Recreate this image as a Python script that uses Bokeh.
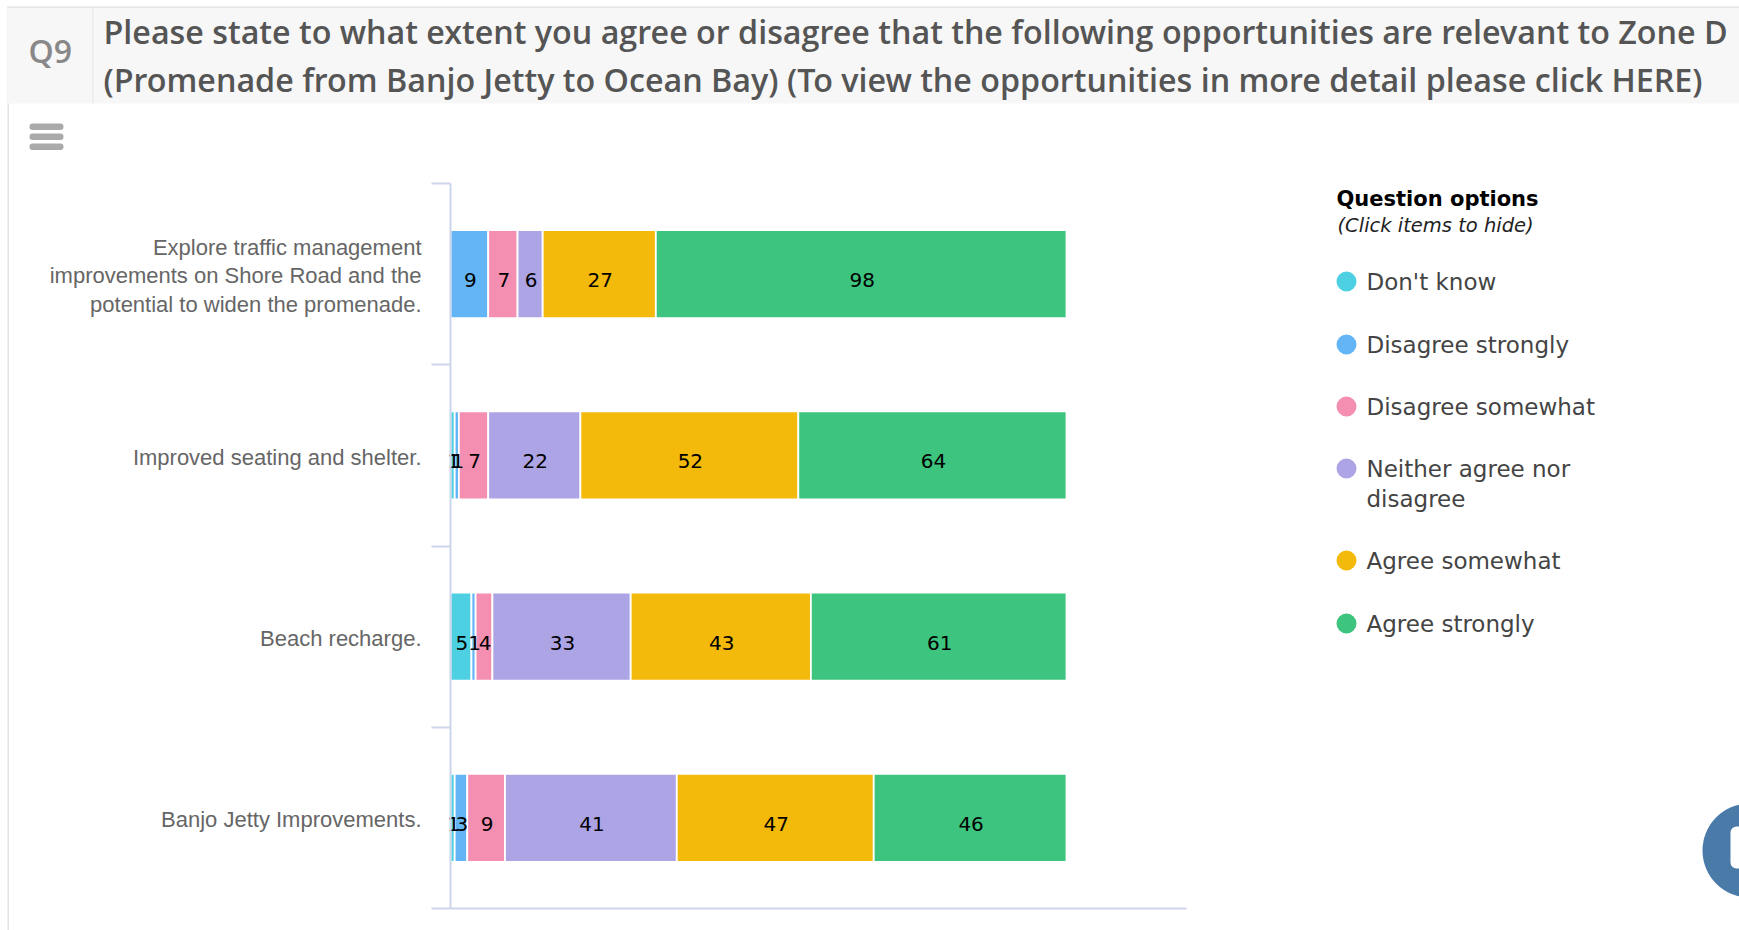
from bokeh.plotting import figure
from bokeh.models import Range1d, FixedTicker, Label, BoxAnnotation, ColumnDataSource
from bokeh.core.properties import value
from bokeh.embed import file_html
from bokeh.resources import INLINE

categories = [
    "Explore traffic management\nimprovements on Shore Road and the\npotential to widen the promenade.",
    "Improved seating and shelter.",
    "Beach recharge.",
    "Banjo Jetty Improvements.",
]
dont_know = [0, 1, 5, 1]
disagree_strongly = [9, 1, 1, 3]
disagree_somewhat = [7, 7, 4, 9]
neither = [6, 22, 33, 41]
agree_somewhat = [27, 52, 43, 47]
agree_strongly = [98, 64, 61, 46]
series_names = ["Don't know", "Disagree strongly", "Disagree somewhat",
                "Neither agree nor\ndisagree", "Agree somewhat", "Agree strongly"]
series_values = [dont_know, disagree_strongly, disagree_somewhat, neither, agree_somewhat, agree_strongly]
colors = ["#4dd0e1", "#64b5f6", "#f48fb1", "#ada4e5", "#f3b90b", "#3dc47e"]
header_q = "Q9"
header_lines = [
    "Please state to what extent you agree or disagree that the following opportunities are relevant to Zone D",
    "(Promenade from Banjo Jetty to Ocean Bay) (To view the opportunities in more detail please click HERE)",
]

W, H = 1739, 930
FL, FT, FB = 450, 183, 908
BAR_PX, AXIS_END = 616, 1186
total = max(sum(s[i] for s in series_values) for i in range(4))
px_per_val = BAR_PX / total
px_per_row = (FB - FT) / 4

p = figure(width=W, height=H, output_backend="svg", toolbar_location=None,
           x_range=Range1d(-FL / px_per_val, (W - FL) / px_per_val),
           y_range=Range1d((H - FT) / px_per_row, -FT / px_per_row),
           min_border_left=0, min_border_right=0, min_border_top=0, min_border_bottom=0,
           outline_line_color=None, background_fill_color="white", border_fill_color="white")
p.grid.visible = False

src = {"y": [i + 0.5 for i in range(4)]}
keys = [f"s{i}" for i in range(6)]
for k, s in zip(keys, series_values):
    src[k] = s
p.hbar_stack(keys, y="y", height=0.485, color=colors, source=ColumnDataSource(src),
             line_color="white", line_width=1.8)

# data labels
xs, ys, ts = [], [], []
for i in range(4):
    c = 0
    for s in series_values:
        if s[i]:
            xs.append(c + s[i] / 2); ys.append(i + 0.5); ts.append(str(s[i]))
        c += s[i]
p.text(xs, ys, text=ts, text_font=value("DejaVu Sans"), text_font_size="20px", text_color="#000000",
       text_align="center", text_baseline="middle", y_offset=6, x_offset=1)

tick_pos = [i + 0.51 for i in range(4)]
yax = p.yaxis[0]
yax.fixed_location = 0
yax.bounds = (0, 4)
yax.ticker = FixedTicker(ticks=tick_pos, minor_ticks=[0, 1, 2, 3, 4])
yax.major_label_overrides = dict(zip(tick_pos, categories))
yax.major_tick_out = 0
yax.major_tick_in = 0
yax.major_tick_line_color = None
yax.minor_tick_out = 19
yax.minor_tick_in = 0
yax.minor_tick_line_color = "#ccd6eb"
yax.minor_tick_line_width = 2
yax.axis_line_color = "#ccd6eb"
yax.axis_line_width = 2
yax.major_label_standoff = 10
yax.major_label_text_font = "Liberation Sans"
yax.major_label_text_font_size = "22px"
yax.major_label_text_color = "#666666"
yax.major_label_text_line_height = 1.13

xax = p.xaxis[0]
xax.fixed_location = 4
xax.ticker = FixedTicker(ticks=[])
xax.bounds = (0, (AXIS_END - FL) / px_per_val)
xax.axis_line_color = "#ccd6eb"
xax.axis_line_width = 2
xax.major_tick_line_color = None
xax.minor_tick_line_color = None
xax.major_label_text_font_size = "0px"


def box(l, t, r, b, color, radius=0):
    p.add_layout(BoxAnnotation(left=l, right=r, top=t, bottom=b,
                               left_units="canvas", right_units="canvas",
                               top_units="canvas", bottom_units="canvas",
                               fill_color=color, fill_alpha=1, line_color=None,
                               border_radius=radius, level="overlay"))


def label(x, y, text, font, size, color, style="normal", align="left"):
    p.add_layout(Label(x=x, y=y, x_units="canvas", y_units="canvas", text=text,
                       text_font=font, text_font_size=f"{size}px", text_color=color,
                       text_font_style=style, text_align=align, text_baseline="middle",
                       level="overlay"))


# panel frame and header
box(7, 6, 8.5, 930, "#e4e4e4")
box(7, 7, 1739, 103, "#f7f7f7")
box(7, 6, 1739, 7.5, "#e4e4e4")
box(91.5, 7, 93, 103, "#ececec")
label(28, 50, header_q, "Open Sans SemiBold", 32, "#888888")
label(103, 30.5, header_lines[0], "Open Sans SemiBold", 32.25, "#555555")
label(103, 78.5, header_lines[1], "Open Sans SemiBold", 32.25, "#555555")

# menu icon
for t in (123, 133, 143):
    box(29, t, 63, t + 6.5, "#aaaaaa", 3)

# legend
label(1336, 198, "Question options", "DejaVu Sans", 21, "#000000", "bold")
label(1337, 225, "(Click items to hide)", "DejaVu Sans", 19.5, "#222222", "italic")
ly = [281, 344, 406, 468, 560, 623]
for name, col, y in zip(series_names, colors, ly):
    box(1336, y - 10, 1356, y + 10, col, 10)
    for j, line in enumerate(name.split("\n")):
        label(1366, y + j * 30, line, "DejaVu Sans", 23, "#444444")

# chat bubble
box(1702, 803, 1796, 897, "#4a7aa8", 47)
box(1730, 826, 1760, 868, "#ffffff", 6)

open("out.html", "w").write(file_html(p, INLINE))
